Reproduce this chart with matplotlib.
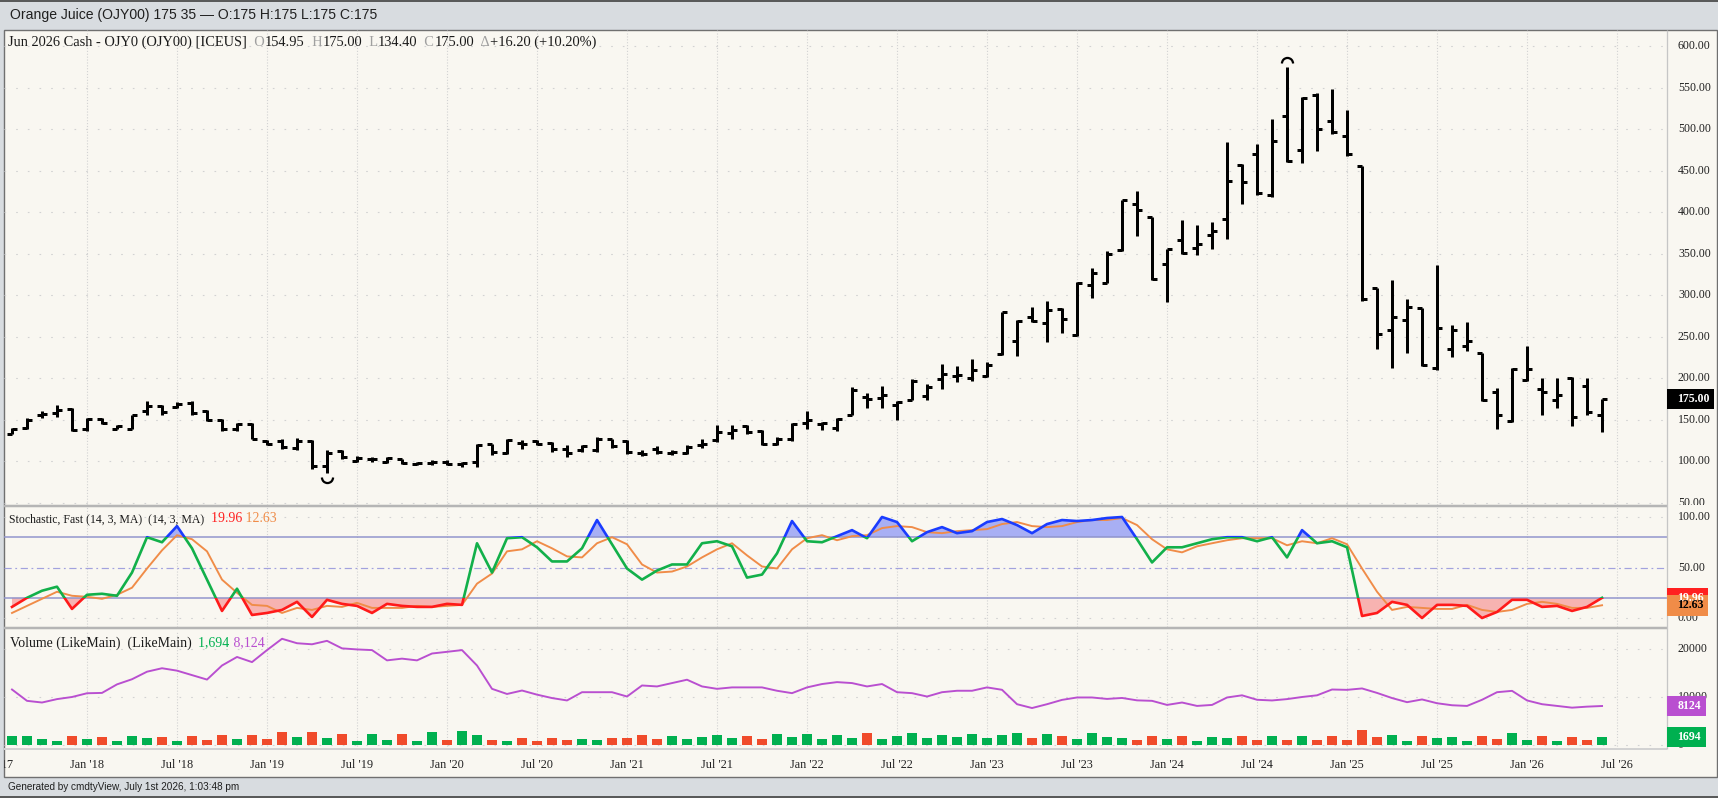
import matplotlib
matplotlib.use("Agg")
import matplotlib.pyplot as plt
from matplotlib.patches import Rectangle
from matplotlib.lines import Line2D
from matplotlib.path import Path
from matplotlib.transforms import IdentityTransform, Bbox
import numpy as np
import pandas as pd

# monthly bars, Aug 2017 .. Jun 2026
months = pd.date_range("2017-08-01", "2026-06-01", freq="MS")

opens = [133, 140, 155, 158, 163, 138, 151, 139, 139, 160,
         166, 165, 170, 160, 150, 138, 145, 124, 124, 116,
         124, 94, 112, 100, 102, 99, 102, 97, 98, 99,
         96, 99, 120, 110, 122, 124, 122, 114, 113, 113,
         126, 124, 110, 115, 110, 110, 119, 125, 134, 142,
         136, 121, 126, 146, 145, 140, 156, 177, 176, 168,
         173, 178, 199, 203, 200, 202, 229, 244, 273, 266,
         283, 252, 312, 315, 354, 410, 394, 337, 366, 357,
         372, 392, 457, 470, 420, 516, 475, 541, 510, 492,
         455, 309, 258, 270, 284, 212, 235, 239, 230, 183,
         148, 198, 187, 174, 200, 190, 154.95]
highs = [140, 152, 160, 167, 164, 152, 152, 143, 156, 172,
         168, 171, 172, 162, 151, 146, 146, 125, 126, 128,
         125, 113, 113, 106, 105, 105, 103, 99, 101, 101,
         99, 121, 121, 127, 125, 125, 123, 119, 119, 129,
         127, 125, 113, 118, 113, 119, 127, 143, 143, 143,
         137, 129, 146, 160, 147, 152, 189, 182, 190, 172,
         199, 193, 217, 215, 223, 219, 280, 270, 285, 293,
         284, 316, 333, 353, 415, 425, 394, 356, 390, 384,
         388, 484, 458, 482, 512, 575, 538, 543, 548, 523,
         455, 309, 318, 295, 284, 336, 264, 267, 230, 188,
         212, 239, 200, 200, 201, 200, 175]
lows = [132, 138, 152, 153, 136, 136, 145, 138, 138, 156,
        155, 164, 156, 148, 136, 136, 126, 119, 115, 113,
        90, 86, 103, 99, 99, 98, 96, 95, 95, 95,
        93, 93, 107, 109, 115, 119, 111, 105, 111, 111,
        116, 109, 106, 109, 107, 109, 116, 123, 127, 133,
        119, 119, 124, 138, 137, 136, 155, 164, 164, 150,
        173, 173, 187, 195, 196, 201, 228, 227, 267, 243,
        254, 251, 297, 314, 353, 371, 318, 291, 349, 348,
        355, 367, 410, 421, 418, 460, 459, 473, 494, 467,
        293, 235, 212, 230, 215, 210, 225, 233, 172, 138,
        147, 196, 155, 164, 142, 156, 134.4]
closes = [139, 150, 157, 162, 137, 151, 146, 142, 155, 166,
          159, 169, 158, 149, 138, 145, 127, 121, 117, 124,
          94, 110, 105, 104, 103, 104, 98, 98, 99, 97,
          98, 119, 111, 125, 120, 121, 114, 110, 118, 127,
          118, 111, 108, 111, 111, 117, 121, 135, 137, 135,
          121, 126, 144, 150, 146, 151, 186, 175, 180, 171,
          197, 189, 205, 204, 210, 216, 279, 269, 269, 282,
          271, 315, 327, 349, 414, 402, 319, 355, 351, 361,
          377, 437, 436, 423, 486, 461, 537, 500, 497, 470,
          295, 253, 273, 286, 216, 260, 258, 245, 173, 155,
          211, 211, 183, 179, 153, 158.8, 175]

stoch_k = [11, 20, 27, 31, 9, 23, 24, 22, 45, 80,
           75, 91, 69, 38, 7, 29, 3, 5, 8, 16,
           1, 18, 14, 12, 5, 14, 12, 11, 11, 14,
           13, 74, 45, 79, 80, 70, 56, 56, 69, 97,
           73, 49, 38, 47, 53, 53, 74, 76, 71, 40,
           43, 64, 96, 76, 75, 81, 87, 79, 100, 95,
           76, 85, 90, 84, 86, 95, 98, 92, 84, 93,
           97, 96, 97, 99, 100, 78, 55, 70, 70, 74,
           78, 80, 80, 76, 80, 60, 87, 74, 76, 70,
           2, 5, 16, 13, 0, 13, 13, 12, 0, 6,
           18, 18, 11, 12, 7, 11, 19.96]
stoch_d = [5, 12, 19, 26, 22, 21, 19, 23, 30, 49,
           67, 82, 78, 66, 38, 25, 13, 12, 5, 10,
           8, 12, 11, 15, 10, 10, 10, 12, 11, 12,
           13, 34, 44, 66, 68, 76, 69, 61, 60, 74,
           80, 73, 53, 45, 46, 51, 60, 68, 74, 62,
           51, 49, 68, 79, 82, 77, 81, 82, 89, 91,
           90, 85, 84, 86, 87, 88, 93, 95, 91, 90,
           91, 95, 97, 97, 99, 92, 78, 68, 65, 71,
           74, 77, 79, 79, 79, 72, 76, 74, 79, 73,
           49, 26, 8, 11, 10, 9, 9, 13, 8, 6,
           8, 14, 16, 14, 10, 10, 12.63]

volume = [1780, 1780, 1290, 850, 1780, 1210, 1640, 850, 1780, 1360,
          1710, 850, 1920, 1000, 2140, 1210, 1990, 1210, 2710, 1570,
          2780, 1360, 2280, 850, 2350, 1000, 2210, 780, 2640, 1070,
          2990, 2070, 1140, 930, 1500, 780, 1430, 1070, 1290, 1140,
          1500, 1400, 2000, 1300, 1800, 1200, 1600, 2100, 1500, 1900,
          1300, 2300, 1700, 2200, 1200, 2000, 1500, 2400, 1300, 1900,
          2600, 1400, 2100, 1700, 2300, 1500, 2000, 2600, 1400, 2200,
          1800, 1300, 2500, 1600, 1430, 1070, 1780, 1210, 1780, 930,
          1570, 1360, 1920, 1070, 1920, 1000, 1850, 1140, 1920, 1140,
          3060, 1570, 1990, 930, 1920, 1500, 1710, 860, 1930, 1280,
          2500, 1140, 1930, 930, 1710, 1070, 1694]
open_interest = [11560, 9200, 8850, 9560, 10000, 10780, 10850, 12630, 13700, 15270,
                 15990, 15490, 14560, 13630, 16560, 18340, 17270, 19770, 22130, 21200,
                 20980, 21700, 20130, 19910, 19770, 17630, 17990, 17630, 19060, 19410,
                 19770, 16560, 11700, 10630, 11350, 10490, 9780, 9280, 11000, 11000,
                 11000, 10100, 12400, 12200, 12900, 13600, 12200, 11700, 12000, 12000,
                 12000, 11300, 10800, 12000, 12700, 13100, 12900, 12200, 12700, 11000,
                 10800, 10100, 11000, 11300, 11300, 12000, 11500, 8500, 7700, 8500,
                 9400, 9900, 9900, 9600, 9800, 9300, 9200, 8350, 8850, 8140,
                 8350, 9900, 10350, 9420, 9280, 9560, 10000, 10350, 11560, 11490,
                 11780, 10850, 9780, 8920, 9490, 8700, 8280, 8140, 9420, 11000,
                 11280, 9280, 8500, 8140, 7780, 7990, 8124]

price_ticks = list(range(50, 601, 50))
stoch_ticks = [0, 50, 100]
volume_ticks = [0, 10000, 20000]

# ---- look ----
W, H = 1718, 798
SERIF = ["Liberation Serif", "DejaVu Serif"]
SANS = ["Liberation Sans", "DejaVu Sans"]
CREAM = "#f9f7f1"
BAR_GRAY = "#d8dce0"
DARK = "#1a1a1a"
LABEL_GRAY = "#a0a0a0"
GREEN = "#00b050"
RED_BAR = "#f04b2b"
PURPLE = "#b94fd0"
ORANGE = "#f08c48"
K_RED = "#ff1a1a"
K_BLUE = "#1a3cff"
K_GREEN = "#12b04a"
LEVEL = "#9094cc"
GRID = "#d2d2d2"
ID = IdentityTransform()
PT = 0.72  # points per pixel at dpi 100

fig = plt.figure(figsize=(W / 100, H / 100), dpi=100, facecolor=BAR_GRAY)


def rect(x0, y0, x1, y1):
    return [x0 / W, 1 - y1 / H, (x1 - x0) / W, (y1 - y0) / H]


def fig_line(xs, ys, color, lw_px, z=1):
    fig.add_artist(Line2D(xs, [H - y for y in ys], transform=ID, color=color,
                          lw=lw_px * PT, zorder=z, solid_capstyle="butt"))


# outer frame
fig.add_artist(Rectangle((3.5, H - 777), 1713, 747, transform=ID, facecolor=CREAM,
                         edgecolor="#707070", lw=1.0, zorder=0))
fig_line([0, W], [0.8, 0.8], "#3a3a3a", 1.6)
fig_line([0, W], [797.3, 797.3], "#3a3a3a", 1.6)

XL = 4
XR = 1666.7
ax_p = fig.add_axes(rect(XL, 30, XR, 505))
ax_s = fig.add_axes(rect(XL, 507, XR, 627))
ax_v = fig.add_axes(rect(XL, 632, XR, 749))
for ax in (ax_p, ax_s, ax_v):
    ax.set_facecolor("none")
    ax.set_xlim(-0.533, 110.31)
    ax.set_xticks([])
    ax.set_yticks([])
    for sp in ax.spines.values():
        sp.set_visible(False)
ax_p.set_ylim(47, 619.3)
ax_s.set_ylim(-8.9, 109.9)
ax_v.set_ylim(-833, 23540)

x = np.arange(len(months))
o = np.array(opens, float)
h = np.array(highs, float)
lo = np.array(lows, float)
c = np.array(closes, float)
k = np.array(stoch_k, float)
d = np.array(stoch_d, float)

# half-year grid positions (month offsets from Aug 2017)
grid_dates = pd.date_range("2017-07-01", "2026-07-01", freq="6MS")
grid_pos = [(g.year - 2017) * 12 + g.month - 8 for g in grid_dates]
grid_lab = [g.strftime("%b '%y") for g in grid_dates]

for ax in (ax_p, ax_s, ax_v):
    for gp in grid_pos:
        ax.axvline(gp, color=GRID, lw=0.8, ls=(0, (1, 1.6)), zorder=0)
for p in price_ticks:
    ax_p.axhline(p, color=GRID, lw=0.8, ls=(0, (1.5, 9)), zorder=0)
for v in (100, 0):
    ax_s.axhline(v, color=GRID, lw=0.8, ls=(0, (1.5, 9)), zorder=0)
for v in volume_ticks:
    ax_v.axhline(v, color=GRID, lw=0.8, ls=(0, (1.5, 9)), zorder=0)

# ---- OHLC bars ----
bar_lw = 3 * PT
ax_p.vlines(x, lo, h, color="black", lw=bar_lw, zorder=3)
ax_p.hlines(o, x - 0.36, x, color="black", lw=bar_lw, zorder=3)
ax_p.hlines(c, x, x + 0.36, color="black", lw=bar_lw, zorder=3)
hi_i = int(np.argmax(h))
lo_i = int(np.argmin(lo))
ax_p.plot([hi_i], [h[hi_i] + 4.5], marker=Path.arc(0, 180), ms=8, mew=1.6,
          mec="black", mfc="none", ls="none", zorder=3)
ax_p.plot([lo_i], [lo[lo_i] - 5], marker=Path.arc(180, 360), ms=8, mew=1.6,
          mec="black", mfc="none", ls="none", zorder=3)

# ---- stochastic ----
ax_s.fill_between(x, k, 80, where=k >= 80, interpolate=True, color="#a8aff4", lw=0, zorder=1)
ax_s.fill_between(x, k, 20, where=k <= 20, interpolate=True, color="#f7b3b1", lw=0, zorder=1)
ax_s.axhline(80, color=LEVEL, lw=1.5 * PT, zorder=2)
ax_s.axhline(20, color=LEVEL, lw=1.5 * PT, zorder=2)
ax_s.axhline(50, color="#a2a2de", lw=1.2 * PT, ls=(0, (6, 3, 1.5, 3)), zorder=2)
ax_s.plot(x, d, color=ORANGE, lw=1.6 * PT * 1.2, zorder=3)
for lo_v, hi_v, col in ((-50, 20, K_RED), (20, 80, K_GREEN), (80, 150, K_BLUE)):
    line, = ax_s.plot(x, k, color=col, lw=2.2 * PT * 1.2, zorder=4)
    clip = Rectangle((-5, lo_v), 130, hi_v - lo_v, transform=ax_s.transData)
    line.set_clip_path(clip)

# ---- volume / open interest ----
vol_cols = [GREEN if cc >= oo else RED_BAR for oo, cc in zip(o, c)]
ax_v.bar(x, volume, width=0.67, color=vol_cols, zorder=2)
ax_v.plot(x, open_interest, color=PURPLE, lw=1.6 * PT * 1.2, zorder=3)

# ---- panel separators and right axis line ----
fig_line([XL, XR], [505.8, 505.8], "#b5b5b5", 2.5, z=2)
fig_line([XL, XR], [628.3, 628.3], "#b5b5b5", 2.5, z=2)
fig_line([XL, XR], [749.3, 749.3], "#d2d2d2", 2.0, z=2)
fig_line([XR, XR], [30, 749.3], "#c6c6c6", 1.3, z=2)

# ---- right-hand scale labels ----
LX = 1678


def scale_label(ax, val, text, clip_top=None, clip_bottom=None):
    yd = ax.transData.transform((0, val))[1]
    t = fig.text(LX, yd, text, transform=ID, ha="left", va="center",
                 fontsize=8.6, family=SERIF, color="#222222", zorder=3)
    if clip_bottom is not None:
        t.set_clip_box(Bbox.from_extents(XR, H - clip_bottom, W, H - clip_top))
        t.set_clip_on(True)


for p in price_ticks:
    scale_label(ax_p, p, f"{p:.2f}", clip_top=30, clip_bottom=505)
for v in stoch_ticks:
    scale_label(ax_s, v, f"{v:.2f}")
for v in volume_ticks:
    scale_label(ax_v, v, f"{v}")

# ---- x labels ----
for gp, gl in zip(grid_pos, grid_lab):
    xd = ax_v.transData.transform((gp, 0))[0]
    t = fig.text(xd, H - 765, gl, transform=ID, ha="center", va="center",
                 fontsize=8.8, family=SERIF, color="#222222")
    t.set_clip_box(Bbox.from_extents(XL, 0, W, H))
    t.set_clip_on(True)


# ---- last value boxes ----
def value_box(ax, val, text, fc, tc, x1, hgt=20.5):
    yd = ax.transData.transform((0, val))[1]
    fig.add_artist(Rectangle((XR, yd - hgt / 2), x1 - XR, hgt, transform=ID,
                             facecolor=fc, edgecolor="none", zorder=5))
    fig.text(1677.5, yd, text, transform=ID, ha="left", va="center", fontsize=8.6,
             family=SERIF, weight="bold", color=tc, zorder=6)


value_box(ax_p, closes[-1], f"{closes[-1]:.2f}", "black", "white", 1714)
value_box(ax_s, stoch_k[-1], f"{stoch_k[-1]:.2f}", "#ff2020", "white", 1708)
value_box(ax_s, stoch_d[-1], f"{stoch_d[-1]:.2f}", ORANGE, "black", 1708)
value_box(ax_v, open_interest[-1], f"{open_interest[-1]}", PURPLE, "white", 1705.7)
value_box(ax_v, volume[-1], f"{volume[-1]}", GREEN, "white", 1705.7)


# ---- header texts ----
renderer = fig.canvas.get_renderer()


def chain(x0, y0, parts, size, family):
    xx = x0
    for part in parts:
        s, col = part[0], part[1]
        sz = part[2] if len(part) > 2 else size
        t = fig.text(xx, H - y0, s, transform=ID, color=col, fontsize=sz,
                     family=family, ha="left", va="center", zorder=4)
        xx += t.get_window_extent(renderer).width


chain(9.6, 15.5, [("Orange Juice (OJY00) 175 35 \u2014 O:175 H:175 L:175 C:175", "#202020")],
      10.1, SANS)
chain(8.4, 42.5, [("Jun 2026 Cash - OJY0 (OJY00) [ICEUS]", DARK), ("  O", LABEL_GRAY),
                  ("154.95", DARK), ("  H", LABEL_GRAY), ("175.00", DARK),
                  ("  L", LABEL_GRAY), ("134.40", DARK), ("  C", LABEL_GRAY),
                  ("175.00", DARK), ("  \u0394", LABEL_GRAY), ("+16.20 (+10.20%)", DARK)],
      10.4, SERIF)
chain(8.8, 519, [("Stochastic, Fast (14, 3, MA)  (14, 3, MA)", DARK),
                 ("  19.96", "#ff2020", 10), (" 12.63", ORANGE, 10)], 8.5, SERIF)
chain(9.6, 643, [("Volume (LikeMain)  (LikeMain)", DARK),
                 ("  1,694", GREEN), (" 8,124", PURPLE)], 10, SERIF)
chain(7.7, 787.5, [("Generated by cmdtyView, July 1st 2026, 1:03:48 pm", "#202020")],
      7.2, SANS)

fig.savefig("out.png", dpi=100, facecolor=fig.get_facecolor())
